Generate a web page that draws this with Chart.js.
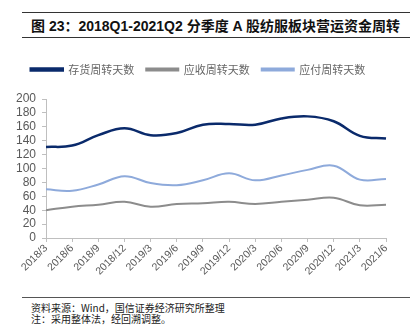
<!DOCTYPE html>
<html>
<head>
<meta charset="utf-8">
<script src="https://cdn.jsdelivr.net/npm/chart.js@4/dist/chart.umd.min.js"></script>
<style>
  body { margin: 0; background: #fff; width: 419px; height: 333px; overflow: hidden; position: relative; }
  .rule { position: absolute; left: 22px; width: 388px; height: 0; border-top: 1px solid #333; }
  .title { position: absolute; left: 31px; top: 15px; font: bold 14px "Liberation Sans", "Noto Sans CJK SC", sans-serif; color: #111; white-space: nowrap; }
  .note { position: absolute; left: 31px; font: 10px "Noto Sans CJK SC", sans-serif; color: #222; white-space: nowrap; line-height: 12px; }
  #wrap { position: absolute; left: 0; top: 52px; width: 419px; height: 224px; }
</style>
</head>
<body>
<div class="rule" style="top:12px"></div>
<div class="title">图 23：2018Q1-2021Q2 分季度 A 股纺服板块营运资金周转</div>
<div class="rule" style="top:37px"></div>
<div id="wrap"><canvas id="chart"></canvas></div>
<div class="rule" style="top:297px;border-top-color:#555"></div>
<div class="note" style="top:302px">资料来源：Wind，国信证券经济研究所整理</div>
<div class="note" style="top:313px">注：采用整体法，经回溯调整。</div>
<script>
const quarters = ["2018/3", "2018/6", "2018/9", "2018/12", "2019/3", "2019/6", "2019/9",
  "2019/12", "2020/3", "2020/6", "2020/9", "2020/12", "2021/3", "2021/6"];
const inventoryDays = [131, 133, 148, 158, 148, 151, 163, 164, 163, 172, 175, 168, 147, 143];
const receivableDays = [40, 45, 48, 52, 45, 49, 50, 52, 49, 52, 55, 58, 47, 48];
const payableDays = [70, 68, 77, 89, 79, 76, 83, 93, 83, 90, 98, 104, 84, 85];

const tickColor = "#595959";
const axisColor = "#bfbfbf";

// extra gap between legend and plot
const legendGap = {
  id: "legendGap",
  beforeInit(chart) {
    const fit = chart.legend.fit;
    chart.legend.fit = function () {
      fit.call(this);
      this.height += 14;
    };
  },
};

const ctx = document.getElementById("chart").getContext("2d");
new Chart(ctx, {
  type: "line",
  data: {
    labels: quarters,
    datasets: [
      { label: "存货周转天数", data: inventoryDays, borderColor: "#0a2a6b", backgroundColor: "#0a2a6b", borderWidth: 2.5 },
      { label: "应收周转天数", data: receivableDays, borderColor: "#8c8c8c", backgroundColor: "#8c8c8c", borderWidth: 2 },
      { label: "应付周转天数", data: payableDays, borderColor: "#8eaadb", backgroundColor: "#8eaadb", borderWidth: 2 },
    ],
  },
  plugins: [legendGap],
  options: {
    responsive: true,
    maintainAspectRatio: false,
    animation: false,
    layout: { padding: { left: 10, right: 33, top: 0, bottom: 0 } },
    elements: {
      point: { radius: 0 },
      line: { tension: 0.4 },
    },
    plugins: {
      legend: {
        position: "top",
        labels: {
          boxWidth: 32,
          boxHeight: 2,
          padding: 12,
          color: "#666",
          font: { family: "Noto Sans CJK SC", size: 11 },
        },
      },
      tooltip: { enabled: false },
    },
    scales: {
      x: {
        offset: false,
        afterFit: (scale) => { scale.height = 38; },
        border: { color: axisColor },
        grid: { drawOnChartArea: false, tickLength: 4, color: axisColor },
        ticks: {
          minRotation: 45,
          maxRotation: 45,
          autoSkip: false,
          padding: 0,
          color: tickColor,
          font: { family: "Liberation Sans", size: 10.5 },
        },
      },
      y: {
        min: 0,
        max: 200,
        border: { color: axisColor },
        grid: { drawOnChartArea: false, tickLength: 4, color: axisColor },
        ticks: {
          stepSize: 20,
          autoSkip: false,
          padding: 6,
          color: tickColor,
          font: { family: "Liberation Sans", size: 12 },
        },
      },
    },
  },
});
</script>
</body>
</html>
